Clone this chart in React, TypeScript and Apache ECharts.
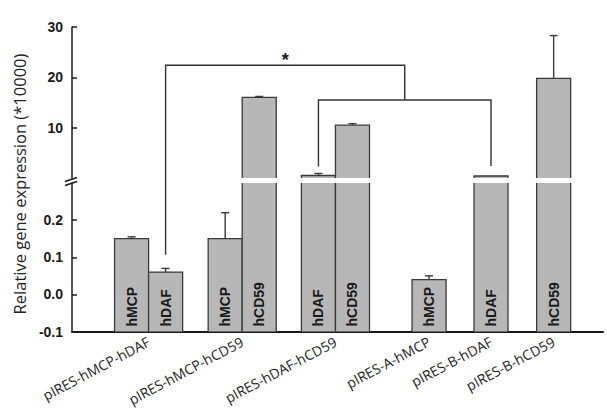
import React, { useEffect, useRef } from 'react';
import * as echarts from 'echarts';

// ---- data ----
const categories = [
  'pIRES-hMCP-hDAF',
  'pIRES-hMCP-hCD59',
  'pIRES-hDAF-hCD59',
  'pIRES-A-hMCP',
  'pIRES-B-hDAF',
  'pIRES-B-hCD59',
];
const barGene = ['hMCP', 'hDAF', 'hMCP', 'hCD59', 'hDAF', 'hCD59', 'hMCP', 'hDAF', 'hCD59'];
const barGroup = [0, 0, 1, 1, 2, 2, 3, 4, 5];
const barValue = [0.15, 0.06, 0.15, 16.0, 0.5, 10.5, 0.04, 0.4, 19.8];
const barError = [0.005, 0.01, 0.07, 0.2, 0.4, 0.3, 0.01, 0, 8.5];
const upperTicks = [10, 20, 30];
const lowerTicks = [-0.1, 0, 0.1, 0.2];
const yTitle = 'Relative gene expression (*10000)';

// ---- layout ----
const X_MAX = 15.6;
const groupCenter = [2.25, 5.0, 7.74, 10.49, 12.31, 14.15];
const BAR_W = 1;
const LOWER_MIN = -0.1;
const LOWER_MAX = 0.3;
const UPPER_MIN = 0;
const UPPER_MAX = 30;
const BAR_FILL = '#b7b7b7';
const EDGE = '#3a3a3a';
const INK = '#1a1a1a';

const groupCount = categories.map((_, g) => barGroup.filter((b) => b === g).length);
const barX = barGroup.map((g, i) => {
  const members = barGroup.map((b, j) => (b === g ? j : -1)).filter((j) => j >= 0);
  const k = members.indexOf(i);
  return groupCenter[g] + (k - (groupCount[g] - 1) / 2) * BAR_W;
});

function makeRender(lower: boolean) {
  return (params: any, api: any) => {
    const i = params.dataIndex;
    const x = api.value(0);
    const v = api.value(1);
    const e = api.value(2);
    if (!lower && v <= LOWER_MAX) return { type: 'group', children: [] };
    const half = api.size([BAR_W, 0])[0] / 2;
    const base = lower ? LOWER_MIN : UPPER_MIN;
    const clipped = lower && v > LOWER_MAX;
    const topV = lower ? Math.min(v, LOWER_MAX) : v;
    const pb = api.coord([x, base]);
    const pt = api.coord([x, topV]);
    const children: any[] = [];
    children.push({
      type: 'rect',
      shape: { x: pb[0] - half, y: pt[1], width: half * 2, height: pb[1] - pt[1] },
      style: { fill: BAR_FILL },
    });
    if (clipped) {
      children.push({ type: 'line', shape: { x1: pb[0] - half, y1: pb[1], x2: pb[0] - half, y2: pt[1] }, style: { stroke: EDGE, lineWidth: 1.3 } });
      children.push({ type: 'line', shape: { x1: pb[0] + half, y1: pb[1], x2: pb[0] + half, y2: pt[1] }, style: { stroke: EDGE, lineWidth: 1.3 } });
    } else {
      children.push({
        type: 'polyline',
        shape: { points: [[pb[0] - half, pb[1]], [pb[0] - half, pt[1]], [pb[0] + half, pt[1]], [pb[0] + half, pb[1]]] },
        style: { stroke: EDGE, lineWidth: 1.3, fill: null },
      });
      if (e > 0) {
        const pe = api.coord([x, v + e]);
        children.push({ type: 'line', shape: { x1: pt[0], y1: pt[1], x2: pt[0], y2: pe[1] }, style: { stroke: EDGE, lineWidth: 1.4 } });
        children.push({ type: 'line', shape: { x1: pt[0] - 4, y1: pe[1], x2: pt[0] + 4, y2: pe[1] }, style: { stroke: EDGE, lineWidth: 1.4 } });
      }
    }
    if (lower) {
      children.push({
        type: 'text',
        x: pb[0],
        y: pb[1] - 5,
        rotation: Math.PI / 2,
        style: {
          text: barGene[i],
          fill: INK,
          fontSize: 14,
          fontWeight: 'bold',
          fontFamily: '"Liberation Sans", Arial, sans-serif',
          align: 'left',
          verticalAlign: 'middle',
        },
      });
    }
    return { type: 'group', children };
  };
}

export default function App() {
  const ref = useRef<HTMLDivElement>(null);
  useEffect(() => {
    const chart = echarts.init(ref.current!, null, { renderer: 'svg' });
    const seriesData = barX.map((x, i) => [x, barValue[i], barError[i]]);
    const yAxisCommon = {
      type: 'value' as const,
      axisLine: { show: true, onZero: false, lineStyle: { color: INK, width: 1.5 } },
      axisTick: { show: true, inside: true, length: 5, lineStyle: { color: INK, width: 1.5 } },
      splitLine: { show: false },
    };
    const labelStyle = {
      color: INK,
      fontSize: 14,
      fontWeight: 'bold' as const,
      fontFamily: '"Liberation Sans", Arial, sans-serif',
      margin: 9,
    };
    chart.setOption({
      animation: false,
      backgroundColor: '#ffffff',
      grid: [
        { left: 72, right: 4, top: 27, height: 151 },
        { left: 72, right: 4, top: 183, height: 149 },
      ],
      xAxis: [
        { type: 'value', gridIndex: 0, min: 0, max: X_MAX, show: false },
        {
          type: 'value',
          gridIndex: 1,
          min: 0,
          max: X_MAX,
          axisLine: { show: true, onZero: false, lineStyle: { color: INK, width: 2 } },
          axisTick: { show: false },
          splitLine: { show: false },
          axisLabel: {
            customValues: groupCenter,
            rotate: 28,
            margin: 9,
            color: '#222',
            fontSize: 14,
            fontFamily: '"Open Sans", sans-serif',
            formatter: (v: number) => {
              const k = groupCenter.findIndex((c) => Math.abs(c - v) < 1e-6);
              return k >= 0 ? categories[k] : '';
            },
          },
        },
      ],
      yAxis: [
        {
          ...yAxisCommon,
          gridIndex: 0,
          min: UPPER_MIN,
          max: UPPER_MAX,
          interval: 10,
          axisTick: { ...yAxisCommon.axisTick, customValues: upperTicks },
          axisLabel: { ...labelStyle, customValues: upperTicks, formatter: (v: number) => String(v) },
        },
        {
          ...yAxisCommon,
          gridIndex: 1,
          min: LOWER_MIN,
          max: LOWER_MAX,
          interval: 0.1,
          axisTick: { ...yAxisCommon.axisTick, customValues: lowerTicks },
          axisLabel: { ...labelStyle, customValues: lowerTicks, formatter: (v: number) => v.toFixed(1) },
        },
      ],
      series: [
        { type: 'custom', xAxisIndex: 0, yAxisIndex: 0, renderItem: makeRender(false), data: seriesData, encode: { x: 0, y: 1 } },
        { type: 'custom', xAxisIndex: 1, yAxisIndex: 1, renderItem: makeRender(true), data: seriesData, encode: { x: 0, y: 1 } },
      ],
    });

    const up = (x: number, y: number) => chart.convertToPixel({ gridIndex: 0 }, [x, y]) as number[];
    const lo = (x: number, y: number) => chart.convertToPixel({ gridIndex: 1 }, [x, y]) as number[];

    // significance brackets (anchored to bars, heights in data units)
    const b2L = up(barX[4], 2.3);
    const b2R = up(barX[7], 2.4);
    const b2Top = up(0, 15.5)[1];
    const b1L = lo(barX[1], 0.107);
    const b1Top = up(0, 22.4)[1];
    const b1Rx = (b2L[0] + b2R[0]) / 2;
    const axisX = up(0, 0)[0];
    const breakY = (up(0, 0)[1] + lo(0, LOWER_MAX)[1]) / 2;
    const lineStyle = { stroke: '#333', lineWidth: 1.4, fill: null };

    chart.setOption({
      graphic: [
        { type: 'polyline', shape: { points: [[b2L[0], b2L[1]], [b2L[0], b2Top], [b2R[0], b2Top], [b2R[0], b2R[1]]] }, style: lineStyle },
        { type: 'polyline', shape: { points: [[b1L[0], b1L[1]], [b1L[0], b1Top], [b1Rx, b1Top], [b1Rx, b2Top]] }, style: lineStyle },
        {
          type: 'text',
          x: (b1L[0] + b1Rx) / 2,
          y: b1Top + 4,
          style: { text: '*', fill: INK, fontSize: 18, fontWeight: 'bold', fontFamily: '"Liberation Sans", Arial, sans-serif', align: 'center', verticalAlign: 'bottom' },
        },
        { type: 'line', shape: { x1: axisX - 7, y1: breakY + 1, x2: axisX + 5, y2: breakY - 3 }, style: { stroke: INK, lineWidth: 1.5 } },
        { type: 'line', shape: { x1: axisX - 7, y1: breakY + 5, x2: axisX + 5, y2: breakY + 1 }, style: { stroke: INK, lineWidth: 1.5 } },
        {
          type: 'text',
          x: 19,
          y: 184,
          rotation: Math.PI / 2,
          style: { text: yTitle, fill: '#222', fontSize: 16.5, fontFamily: '"Open Sans", sans-serif', align: 'center', verticalAlign: 'middle' },
        },
      ],
    });
    return () => chart.dispose();
  }, []);
  return <div ref={ref} style={{ position: 'fixed', left: 0, top: 0, width: 607, height: 408, background: '#fff' }} />;
}
